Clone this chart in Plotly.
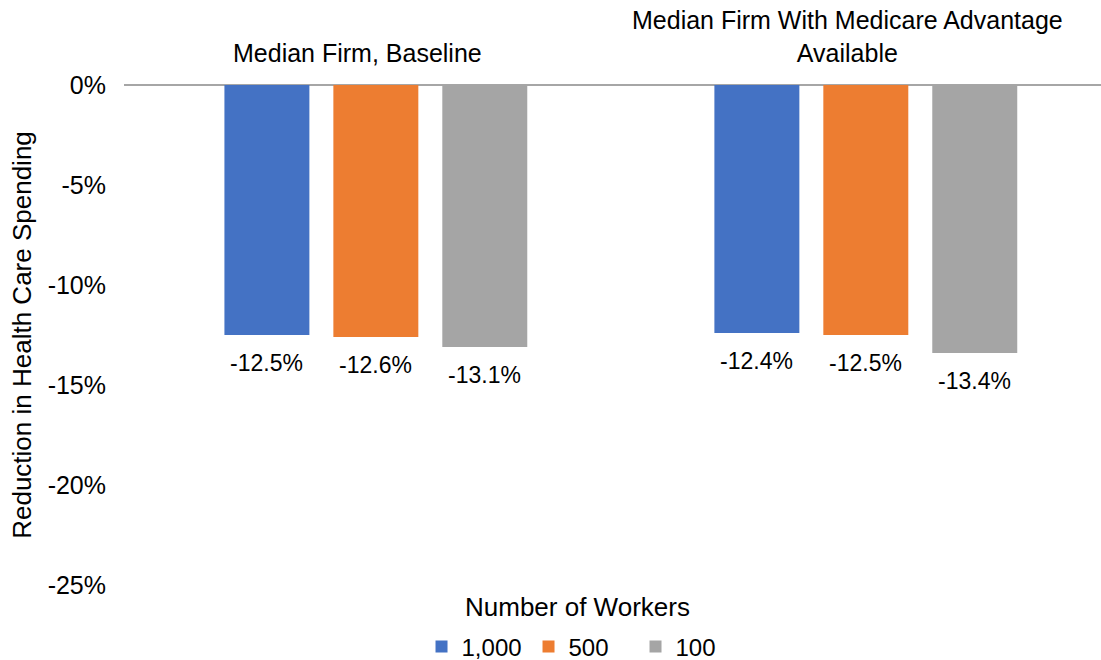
import plotly.graph_objects as go

categories = ["Median Firm, Baseline", "Median Firm With Medicare Advantage<br>Available"]
series_names = ["1,000", "500", "100"]
series_values = [
    [-12.5, -12.4],
    [-12.6, -12.5],
    [-13.1, -13.4],
]
colors = ["#4472C4", "#ED7D31", "#A5A5A5"]
y_ticks = [0, -5, -10, -15, -20, -25]
y_tick_labels = ["0%", "-5%", "-10%", "-15%", "-20%", "-25%"]
legend_title = "Number of Workers"

FONT = "Liberation Sans, Arial, sans-serif"
BLACK = "#000000"

fig = go.Figure()
x_idx = list(range(len(categories)))
for name, vals, col in zip(series_names, series_values, colors):
    fig.add_trace(go.Bar(
        x=x_idx, y=vals, name=name,
        marker=dict(color=col, line=dict(width=0)),
    ))

# value labels beneath each bar end
bargap = 0.333
slot = (1 - bargap) / len(series_names)
for i, vals in enumerate(series_values):
    off = (i - (len(series_names) - 1) / 2) * slot
    for j, v in enumerate(vals):
        fig.add_annotation(
            x=j + off, y=v, xref="x", yref="y",
            text=f"{v:.1f}%", showarrow=False,
            yanchor="top", yshift=-13,
            font=dict(family=FONT, size=23, color=BLACK),
        )

# category labels above the zero line
for j, cat in enumerate(categories):
    fig.add_annotation(
        x=j, y=1, xref="x", yref="paper",
        text=cat, showarrow=False, xshift=-18,
        yanchor="bottom", yshift=16,
        font=dict(family=FONT, size=25, color=BLACK),
    )

# legend heading
fig.add_annotation(
    x=0.4637, y=-0.044, xref="paper", yref="paper",
    text=legend_title, showarrow=False,
    xanchor="center", yanchor="middle",
    font=dict(family=FONT, size=26, color=BLACK),
)

fig.update_layout(
    width=1101, height=660,
    margin=dict(l=124, r=0, t=85, b=75),
    paper_bgcolor="white", plot_bgcolor="white",
    barmode="group", bargap=bargap, bargroupgap=0.22,
    font=dict(family=FONT, size=24, color=BLACK),
    showlegend=True,
    legend=dict(
        orientation="h", x=0.4688, xanchor="center",
        yref="container", y=0.0197, yanchor="middle",
        font=dict(family=FONT, size=24, color=BLACK),
        entrywidth=62, entrywidthmode="pixels",
        itemwidth=30, traceorder="normal",
    ),
    xaxis=dict(
        range=[-0.514, 1.48], showticklabels=False,
        showgrid=False, zeroline=False, showline=False, ticks="",
    ),
    yaxis=dict(
        range=[-25, 0], tickmode="array", tickvals=y_ticks, ticktext=y_tick_labels,
        showgrid=False, zeroline=True, zerolinecolor="#A6A6A6", zerolinewidth=2,
        showline=False, ticks="", ticklabelstandoff=17,
        tickfont=dict(family=FONT, size=25, color=BLACK),
        title=dict(text="Reduction in Health Care Spending", standoff=8,
                   font=dict(family=FONT, size=26, color=BLACK)),
    ),
)

fig.write_html("out.html")
